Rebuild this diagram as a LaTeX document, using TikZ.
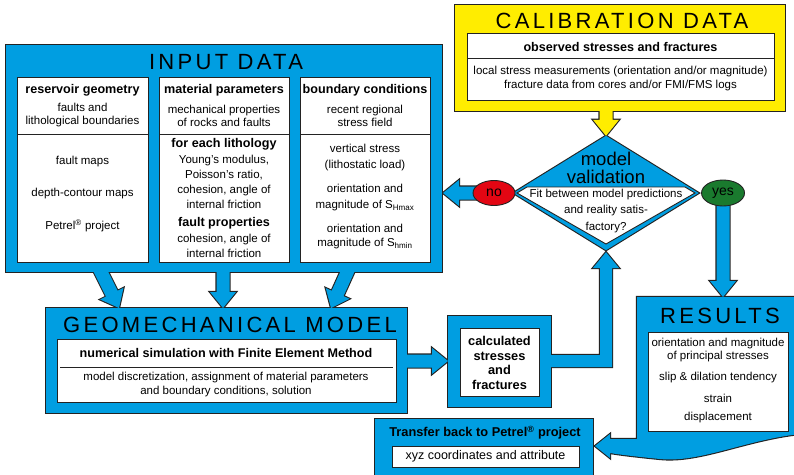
\documentclass[tikz,border=0pt]{standalone}
\usepackage{fontspec}
\setmainfont{Liberation Sans}
\newfontfamily\titlefont[LetterSpace=15]{Liberation Sans}
\usetikzlibrary{calc,shapes.geometric}

\definecolor{fillblue}{RGB}{0,158,225}
\definecolor{fillyellow}{RGB}{255,237,0}
\definecolor{edge}{RGB}{35,35,35}
\definecolor{nored}{RGB}{227,6,19}
\definecolor{yesgreen}{RGB}{26,122,46}

\pgfdeclarelayer{outlines}
\pgfsetlayers{outlines,main}

% a filled block whose outline merges with touching blocks
\newcommand\blk[2][fillblue]{%
  \begin{pgfonlayer}{outlines}\draw[edge,line width=2.2pt,line join=miter] #2;\end{pgfonlayer}%
  \fill[#1] #2;}
% a straight block arrow from #2 to the tip #3
\newcommand\blkarrow[3][fillblue]{%
  \coordinate (hd) at ($(#3)!16pt!(#2)$);
  \blk[#1]{($(#2)!6.5pt!90:(#3)$) -- ($(hd)!6.5pt!90:(#3)$) -- ($(hd)!13pt!90:(#3)$) -- (#3)
    -- ($(hd)!13pt!-90:(#3)$) -- ($(hd)!6.5pt!-90:(#3)$) -- ($(#2)!6.5pt!-90:(#3)$) -- cycle}}

\tikzset{
  area/.style 2 args={inner sep=0pt, outer sep=0pt, minimum width=#1pt, minimum height=#2pt},
  whitebox/.style={draw=edge, fill=white, line width=0.9pt},
  rule/.style={draw=edge, line width=0.9pt},
  txt/.style={inner sep=0pt, align=center, font=\fontsize{11.5}{13}\selectfont},
  hdr/.style={inner sep=0pt, align=center, font=\fontsize{12.6}{14.7}\selectfont\bfseries},
  ttl/.style={inner sep=0pt, font=\fontsize{22}{24}\selectfont\titlefont},
  oval/.style={ellipse, draw=edge, line width=0.9pt, inner sep=0pt, font=\fontsize{14}{16}\selectfont}
}

\begin{document}
\begin{tikzpicture}[x=1pt,y=-1pt]
\useasboundingbox (0,0) rectangle (794,474);

% ---- block areas
\node[area={436}{227}] (input) at (224,158.5) {};
\node[area={330}{106}] (calib) at (620,58) {};
\node[area={361}{105}] (geo) at (226.5,360.5) {};
\node[area={103}{91}] (calc) at (499.5,361.5) {};
\node[area={163}{142}] (res) at (718.5,368) {};
\node[area={218}{61}] (transfer) at (484,449.5) {};
\node[diamond, inner sep=0pt, minimum width=185pt, minimum height=114pt] (valid) at (606,193) {};

% ---- anchor points of the arrows
\coordinate (inA) at (98,266);   \coordinate (geoA) at (119,308);
\coordinate (inB) at (223,266);  \coordinate (geoB) at (223,308);
\coordinate (inC) at (350,266);  \coordinate (geoC) at (331,308);
\coordinate (geoOut) at (401,361); \coordinate (calcIn) at (448,361);
\coordinate (calibOut) at (606,104);
\coordinate (noOut) at (490,193); \coordinate (inputIn) at (443,193);
\coordinate (yesOut) at (723,202); \coordinate (resIn) at (723,297);

% ---- blue and yellow blocks
\blk[fillyellow]{(calib.south west) rectangle (calib.north east)}
\blkarrow[fillyellow]{calibOut}{valid.north}
\blk{(valid.north) -- (valid.east) -- (valid.south) -- (valid.west) -- cycle}
\blk{(input.south west) rectangle (input.north east)}
\blk{(geo.south west) rectangle (geo.north east)}
\blk{(calc.south west) rectangle (calc.north east)}
\blk{(transfer.south west) rectangle (transfer.north east)}
\blk{(res.north west) -- (res.north east) -- (800,434)
  .. controls (745,440) and (700,463) .. (660,459)
  .. controls (640,457) and (622,455) .. (610,453)
  -- (610,458) -- (595,446) -- (610,434) -- (610,439) -- (res.south west) -- cycle}
\blkarrow{inA}{geoA}
\blkarrow{inB}{geoB}
\blkarrow{inC}{geoC}
\blkarrow{geoOut}{calcIn}
\blkarrow{noOut}{inputIn}
\blkarrow{yesOut}{resIn}
% elbow arrow from the calculated results up to the validation
\blk{(545,355) -- (600,355) -- (600,268) -- (593,268) -- ([yshift=-2pt]valid.south)
  -- (619,268) -- (612,268) -- (612,367) -- (545,367) -- cycle}

% ---- titles
\node[ttl] at (226,62) {INPUT DATA};
\node[ttl] at (622,21) {CALIBRATION DATA};
\node[ttl] at (230,325) {GEOMECHANICAL MODEL};
\node[ttl] at (720,316) {RESULTS};

% ---- input data
\node[whitebox, area={131}{185}] (geom) at (82.5,169.5) {};
\node[whitebox, area={130}{185}] (mat) at (224,169.5) {};
\node[whitebox, area={130}{185}] (bound) at (365,169.5) {};
\draw[rule] (geom.west |- 0,134) -- (geom.east |- 0,134);
\draw[rule] (mat.west |- 0,134) -- (mat.east |- 0,134);
\draw[rule] (bound.west |- 0,134) -- (bound.east |- 0,134);

\node[hdr] at (82.5,90) {reservoir geometry};
\node[txt] at (82.5,115.5) {faults and\\lithological boundaries};
\node[txt] at (82.5,162) {fault maps};
\node[txt] at (82.5,194) {depth-contour maps};
\node[txt] at (82.5,226) {Petrel\textsuperscript{®} project};

\node[hdr] at (224,90) {material parameters};
\node[txt] at (224,115.5) {mechanical properties\\of rocks and faults};
\node[hdr] at (224,144) {for each lithology};
\node[txt, font=\fontsize{11.5}{15}\selectfont] at (224,181.5) {Young's modulus,\\Poisson's ratio,\\cohesion, angle of\\internal friction};
\node[hdr] at (224,223) {fault properties};
\node[txt, font=\fontsize{11.5}{14.5}\selectfont] at (224,246) {cohesion, angle of\\internal friction};

\node[hdr] at (365,90) {boundary conditions};
\node[txt] at (365,115.5) {recent regional\\stress field};
\node[txt, font=\fontsize{11.5}{16}\selectfont] at (365,158) {vertical stress\\(lithostatic load)};
\node[txt, font=\fontsize{11.5}{16}\selectfont] at (365,197.5) {orientation and\\magnitude of S\textsubscript{Hmax}};
\node[txt, font=\fontsize{11.5}{14.5}\selectfont] at (365,236.5) {orientation and\\magnitude of S\textsubscript{hmin}};

% ---- calibration data
\node[whitebox, area={307}{67}] (obs) at (620.5,66.5) {};
\draw[rule] (obs.west |- 0,58) -- (obs.east |- 0,58);
\node[hdr] at (620.5,46.5) {observed stresses and fractures};
\node[txt, font=\fontsize{11.5}{14}\selectfont] at (620.5,79) {local stress measurements (orientation and/or magnitude)\\fracture data from cores and/or FMI/FMS logs};

% ---- model validation
\draw[whitebox] (517,193) -- (527,187) -- (685,187) -- (695,193) -- (606,244) -- cycle;
\node[inner sep=0pt, align=center, font=\fontsize{18.5}{18}\selectfont] at (606,167.5) {model\\validation};
\node[txt, font=\fontsize{11.5}{16.5}\selectfont] at (606,211) {Fit between model predictions\\and reality satis-\\factory?};
\node[oval, fill=nored, minimum width=42pt, minimum height=25pt] (no) at (494,193) {no};
\node[oval, fill=yesgreen, minimum width=43pt, minimum height=26pt] (yes) at (723,193) {yes};

% ---- geomechanical model
\node[whitebox, area={339}{63}] (fem) at (226.5,370.5) {};
\draw[rule] (60,367) -- (393,367);
\node[hdr] at (226,353) {numerical simulation with Finite Element Method};
\node[txt, font=\fontsize{11.5}{14}\selectfont] at (226,385) {model discretization, assignment of material parameters\\and boundary conditions, solution};

% ---- calculated stresses
\node[whitebox, area={79}{68}] (calcw) at (499.5,362) {};
\node[hdr, font=\fontsize{12.8}{14.7}\selectfont\bfseries] at (499.5,363) {calculated\\stresses\\and\\fractures};

% ---- results
\node[whitebox, area={140}{99}] (resw) at (718,381.5) {};
\node[txt] at (718,350.5) {orientation and magnitude\\of principal stresses};
\node[txt] at (718,378) {slip \& dilation tendency};
\node[txt] at (718,398) {strain};
\node[txt] at (718,418) {displacement};

% ---- transfer
\node[hdr, font=\fontsize{12.8}{15}\selectfont\bfseries] at (485,433) {Transfer back to Petrel\textsuperscript{®} project};
\node[whitebox, area={187}{21}] (xyz) at (485.5,456.5) {};
\node[txt, font=\fontsize{12.5}{14}\selectfont] at (485.5,456.5) {xyz coordinates and attribute};
\end{tikzpicture}
\end{document}
